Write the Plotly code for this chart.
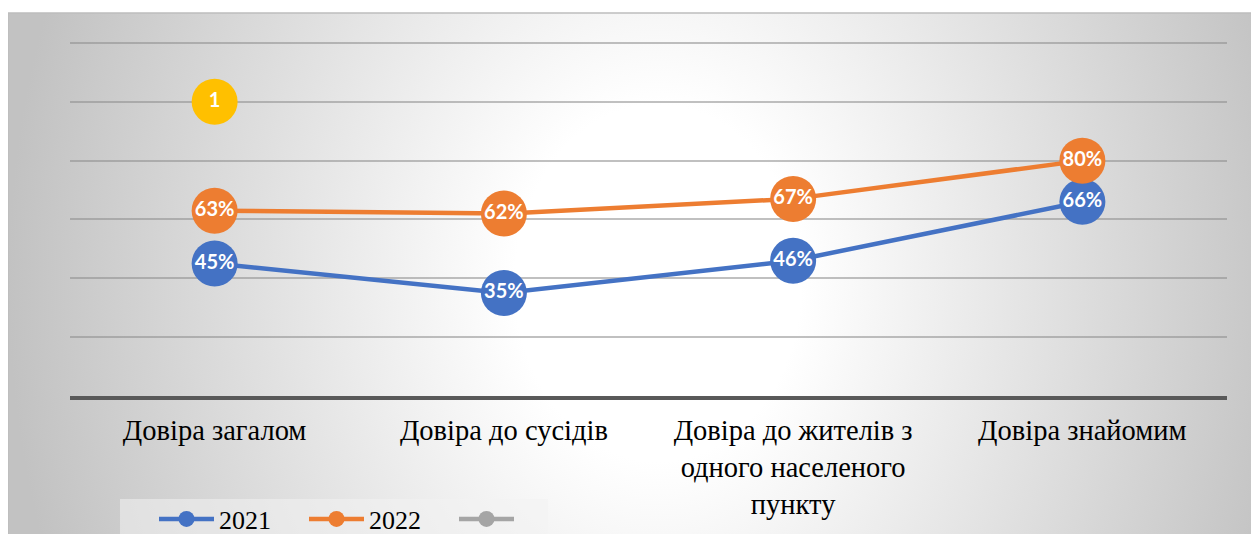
import base64
import plotly.graph_objects as go

# Data
categories = ['Довіра загалом', 'Довіра до сусідів',
              'Довіра до жителів з<br>одного населеного<br>пункту', 'Довіра знайомим']
values_2021 = [45, 35, 46, 66]
values_2022 = [63, 62, 67, 80]
series_names = ['2021', '2022', ' ']
marker_point_cat = [categories[0]]
marker_point_val = [100]
marker_point_label = ['1']

blue = '#4472C4'
orange = '#ED7D31'
grey = '#A5A5A5'
yellow = '#FFC000'
serif = 'Liberation Serif'

# page body has an 8px margin, so the figure is placed 8px right/down
W, H = 1259, 534
pl, pr, pt, pb = 62, 1219, 32, 388     # plot area in figure pixels
pw, ph = pr - pl, pb - pt

def px_x(x):
    return (x - pl) / pw

def px_y(y):
    return (pb - y) / ph

# chart-area background: white in the middle, grey at the sides
svg = ('<svg xmlns="http://www.w3.org/2000/svg" width="1300" height="540" preserveAspectRatio="none">'
       '<defs><radialGradient id="g" cx="0.5" cy="0.5" r="0.5" '
       'gradientTransform="translate(0.5,0.5) scale(1,3) translate(-0.5,-0.5)">'
       '<stop offset="0" stop-color="#ffffff"/><stop offset="0.22" stop-color="#ffffff"/>'
       '<stop offset="1" stop-color="#c2c2c2"/>'
       '</radialGradient></defs><rect width="1300" height="540" fill="url(#g)"/></svg>')
bg_src = 'data:image/svg+xml;base64,' + base64.b64encode(svg.encode()).decode()

fig = go.Figure()

for name, vals, col in [(series_names[0], values_2021, blue), (series_names[1], values_2022, orange)]:
    fig.add_trace(go.Scatter(x=categories, y=vals, name=name, mode='lines+markers',
                             line=dict(color=col, width=4.5),
                             marker=dict(color=col, size=46)))
    fig.add_trace(go.Scatter(x=categories, y=vals, mode='text', showlegend=False,
                             text=[f'{v}%' for v in vals],
                             textfont=dict(color='white', size=20, family='Lato', weight='bold')))

# empty grey series (only visible in legend)
fig.add_trace(go.Scatter(x=categories, y=[None] * len(categories), name=series_names[2],
                         mode='lines+markers', line=dict(color=grey, width=4.5),
                         marker=dict(color=grey, size=46)))

# yellow numbered point
fig.add_trace(go.Scatter(x=marker_point_cat, y=marker_point_val, mode='markers+text',
                         showlegend=False, text=marker_point_label, textposition='middle center',
                         marker=dict(color=yellow, size=46),
                         textfont=dict(color='white', size=20, family='Lato', weight='bold')))

fig.update_layout(
    width=W, height=H,
    margin=dict(l=pl, r=W - pr, t=pt, b=H - pb, autoexpand=False),
    paper_bgcolor='white', plot_bgcolor='rgba(0,0,0,0)',
    font=dict(family=serif, color='black', size=26),
    showlegend=True,
    legend=dict(orientation='h', xref='container', yref='container',
                x=146 / W, y=1 - 511 / H, xanchor='left', yanchor='middle',
                bgcolor='rgba(0,0,0,0)', font=dict(size=26, family=serif, color='black'),
                itemwidth=55, entrywidth=80, tracegroupgap=0),
    images=[dict(source=bg_src, xref='paper', yref='paper', x=px_x(0), y=px_y(5),
                 sizex=1300 / pw, sizey=540 / ph, xanchor='left', yanchor='top',
                 sizing='stretch', layer='below')],
    shapes=[
        dict(type='rect', xref='paper', yref='paper', x0=px_x(0), x1=px_x(1300),
             y0=px_y(600), y1=px_y(5), line=dict(color='#bdbdbd', width=1.5),
             fillcolor='rgba(0,0,0,0)', layer='below'),
        # legend box
        dict(type='rect', xref='paper', yref='paper', x0=px_x(112), x1=px_x(540),
             y0=px_y(560), y1=px_y(491), line=dict(width=0),
             fillcolor='rgba(242,242,242,0.55)', layer='below'),
    ],
)

fig.update_xaxes(type='category', range=[-0.5, 3.5], showgrid=False, automargin=False,
                 showline=True, linecolor='#595959', linewidth=3.5,
                 ticks='', ticklabelstandoff=6,
                 tickfont=dict(size=28.5, family=serif, color='black'))
fig.update_yaxes(range=[0, 121], dtick=20, showgrid=True, gridcolor='rgba(140,140,140,0.55)',
                 gridwidth=1.5, showticklabels=False, zeroline=False, showline=False,
                 automargin=False)

fig.write_html('out.html')
